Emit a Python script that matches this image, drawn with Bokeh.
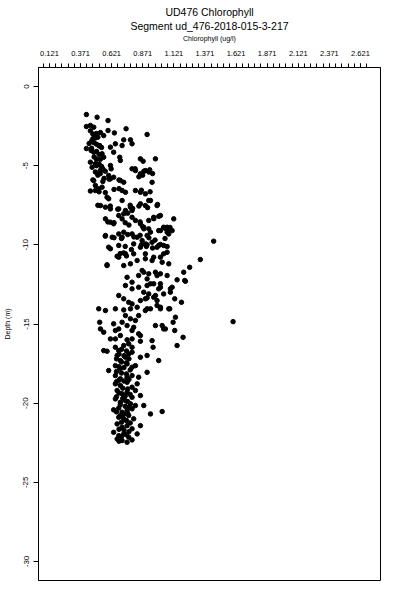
from bokeh.plotting import figure
from bokeh.models import Range1d, FixedTicker, Title
from bokeh.embed import file_html
from bokeh.resources import INLINE

TITLE = "UD476 Chlorophyll"
SUBTITLE = "Segment ud_476-2018-015-3-217"
X_LABEL = "Chlorophyll (ug/l)"
Y_LABEL = "Depth (m)"
X_TICKS = [0.121, 0.371, 0.621, 0.871, 1.121, 1.371, 1.621, 1.871, 2.121, 2.371, 2.621]
X_TICK_LABELS = ["0.121", "0.371", "0.621", "0.871", "1.121", "1.371", "1.621", "1.871", "2.121", "2.371", "2.621"]
Y_TICKS = [0, -5, -10, -15, -20, -25, -30]
Y_TICK_LABELS = ["0", "-5", "-10", "-15", "-20", "-25", "-30"]

# (chlorophyll ug/l, depth m), by depth band
band_surface = [
    (0.418, -1.77), (0.504, -1.94), (0.592, -2.15), (0.418, -2.53), (0.450, -2.46), (0.477, -2.57),
    (0.737, -2.67), (0.592, -2.78), (0.643, -2.93), (0.498, -2.97), (0.531, -2.91), (0.557, -3.10),
    (0.906, -3.03), (0.46, -3.45), (0.48, -3.55), (0.50, -3.65), (0.52, -3.75), (0.54, -3.85),
    (0.44, -3.6), (0.47, -3.3), (0.51, -3.2), (0.418, -3.92), (0.456, -4.04), (0.477, -4.15),
    (0.525, -3.73), (0.544, -4.25), (0.557, -4.47), (0.611, -3.83), (0.651, -3.62), (0.705, -3.73),
    (0.718, -3.37), (0.785, -3.62), (0.772, -3.37), (0.637, -4.15), (0.686, -4.47), (0.691, -4.67),
    (0.450, -4.78), (0.464, -5.10), (0.490, -4.88), (0.50, -4.6), (0.52, -4.9), (0.53, -5.3),
    (0.51, -5.6), (0.55, -5.2), (0.56, -5.8), (0.611, -4.99), (0.617, -5.20), (0.785, -5.20),
    (0.812, -5.31), (0.852, -4.57), (0.874, -4.72), (0.852, -5.51), (0.892, -5.31), (0.927, -5.26),
    (0.973, -4.57), (0.597, -5.62), (0.611, -5.83), (0.637, -5.73), (0.691, -5.94), (0.477, -5.94),
    (0.45, -2.8), (0.47, -3.0), (0.49, -3.25), (0.46, -3.9), (0.50, -4.1), (0.52, -4.3),
    (0.48, -4.45), (0.53, -4.6), (0.50, -5.0), (0.54, -5.05), (0.49, -5.4), (0.53, -5.5),
    (0.57, -5.35), (0.47, -5.9), (0.60, -5.85), (0.68, -5.9), (0.81, -5.2), (0.88, -5.35),
    (0.92, -5.4), (0.95, -5.5), (0.84, -5.7), (0.87, -5.6),
]

band_middle = [
    (0.55, -6.0), (0.718, -6.05), (0.490, -6.25), (0.946, -6.05), (0.490, -6.57), (0.517, -6.46),
    (0.544, -6.36), (0.584, -6.99), (0.597, -7.09), (0.705, -6.57), (0.732, -6.68), (0.812, -6.57),
    (0.852, -6.68), (0.892, -6.78), (0.919, -7.20), (0.531, -7.52), (0.571, -7.62), (0.611, -7.73),
    (0.678, -7.73), (0.705, -7.20), (0.732, -7.83), (0.772, -7.62), (0.785, -7.83), (0.852, -7.41),
    (0.892, -7.52), (0.933, -7.20), (0.986, -7.52), (0.571, -8.36), (0.611, -8.57), (0.637, -8.67),
    (0.678, -8.15), (0.705, -8.36), (0.718, -8.04), (0.785, -8.26), (0.812, -8.46), (0.852, -8.67),
    (0.879, -8.89), (0.919, -8.46), (0.959, -8.26), (1.013, -8.15), (1.120, -8.36), (0.571, -9.41),
    (0.625, -9.52), (0.678, -9.31), (0.705, -9.52), (0.718, -9.20), (0.785, -9.31), (0.826, -9.52),
    (0.866, -9.73), (0.906, -9.41), (0.933, -9.20), (1.013, -9.10), (1.067, -8.89), (1.080, -9.31),
    (0.597, -10.15), (0.678, -10.04), (0.798, -9.94), (0.852, -10.15), (0.906, -10.00), (0.986, -10.15),
    (1.039, -10.04), (0.611, -10.25), (0.584, -11.26), (0.665, -10.72), (0.718, -10.51), (0.732, -10.57),
    (0.798, -10.57), (1.441, -9.77), (1.334, -10.93), (1.248, -11.42), (1.200, -11.73), (1.080, -8.99),
    (1.067, -9.20), (1.107, -9.10), (1.067, -10.11), (1.039, -10.57), (1.067, -10.47), (1.080, -11.20),
    (0.879, -8.99), (0.919, -8.99), (0.999, -9.10), (1.039, -8.89), (0.892, -9.94), (0.946, -9.84),
    (0.999, -10.04), (1.013, -9.98), (0.892, -10.88), (0.946, -10.99), (1.013, -10.78), (1.027, -11.10),
    (0.879, -11.73), (0.919, -11.83), (0.973, -11.73), (1.013, -11.83), (0.584, -11.31), (0.678, -10.78),
    (0.718, -11.31), (0.772, -11.20), (0.826, -10.99), (0.892, -10.57), (0.959, -10.78), (0.866, -11.62),
    (0.838, -11.94), (0.986, -11.94), (1.067, -11.94), (0.45, -6.6), (0.52, -6.65), (0.57, -6.7),
    (0.64, -6.5), (0.68, -6.45), (0.86, -6.55), (0.93, -6.65), (0.51, -7.5), (0.61, -7.55),
    (0.67, -7.75), (0.75, -8.0), (0.77, -7.5), (0.79, -7.7), (0.84, -7.55), (0.91, -7.65),
    (0.99, -7.45), (0.59, -8.55), (0.64, -8.6), (0.73, -8.6), (0.76, -8.75), (0.85, -8.55),
    (0.87, -8.85), (0.96, -8.35), (1.00, -8.2), (1.05, -8.95), (1.09, -8.9), (0.57, -9.45),
    (0.64, -9.55), (0.70, -9.6), (0.75, -9.35), (0.80, -9.5), (0.85, -9.4), (0.92, -9.55),
    (0.97, -9.7), (0.86, -10.0), (0.90, -10.1), (0.95, -10.2), (1.05, -9.6), (0.73, -10.1),
    (0.78, -10.3), (0.69, -10.55), (0.74, -10.7),
]

band_lower = [
    (1.208, -12.25), (1.147, -12.21), (1.107, -12.68), (1.128, -13.41), (1.182, -13.63), (1.088, -14.04),
    (1.134, -14.57), (1.115, -14.89), (1.128, -15.41), (1.195, -15.84), (1.597, -14.85), (0.906, -12.57),
    (0.959, -12.46), (1.013, -12.68), (1.093, -12.78), (0.892, -13.41), (0.973, -13.20), (0.986, -13.52),
    (1.093, -12.99), (0.906, -14.04), (0.986, -13.83), (1.013, -14.04), (0.973, -15.10), (1.039, -15.31),
    (0.745, -12.05), (0.785, -12.36), (0.906, -12.15), (0.933, -12.46), (1.013, -12.46), (1.214, -12.30),
    (0.732, -12.57), (0.785, -12.78), (0.838, -12.68), (0.879, -12.99), (0.919, -13.10), (0.959, -13.31),
    (0.999, -12.78), (1.039, -13.10), (0.678, -13.20), (0.718, -13.41), (0.758, -13.63), (0.785, -13.73),
    (0.852, -13.52), (0.906, -13.35), (1.013, -13.94), (1.080, -14.04), (0.517, -14.04), (0.571, -14.15),
    (0.651, -14.04), (0.718, -14.11), (0.772, -14.04), (0.826, -13.94), (0.732, -14.47), (0.772, -14.67),
    (0.812, -14.78), (0.838, -14.47), (0.892, -14.15), (0.933, -14.04), (0.525, -14.89), (0.637, -14.99),
    (0.705, -14.89), (0.745, -15.10), (0.798, -15.21), (1.027, -15.10), (1.053, -15.31), (0.531, -15.31),
    (0.557, -15.52), (0.651, -15.41), (0.678, -15.31), (0.785, -15.41), (0.838, -15.62), (0.852, -15.73),
    (0.611, -15.94), (0.651, -15.94), (0.691, -15.73), (0.745, -16.00), (0.785, -15.94), (0.852, -16.09),
    (0.718, -16.36), (0.758, -16.25), (0.785, -16.47), (0.651, -16.47), (0.946, -16.05), (0.954, -16.47),
    (1.147, -16.36),
]

band_deep = [
    (0.678, -16.68), (0.557, -16.68), (0.584, -16.72), (0.665, -16.99), (0.691, -17.31), (0.732, -17.10),
    (0.758, -16.89), (0.785, -16.78), (0.852, -17.10), (0.906, -16.99), (0.999, -17.31), (0.651, -17.63),
    (0.691, -17.83), (0.745, -17.52), (0.785, -17.73), (0.812, -17.63), (0.597, -17.94), (0.906, -18.05),
    (0.651, -18.26), (0.691, -18.46), (0.745, -18.36), (0.785, -18.26), (0.838, -18.36), (0.651, -18.78),
    (0.691, -18.89), (0.745, -18.68), (0.785, -18.99), (0.826, -18.78), (0.852, -19.52), (0.665, -19.20),
    (0.705, -19.41), (0.745, -19.31), (0.785, -19.63), (0.812, -19.20), (0.651, -19.73), (0.691, -19.94),
    (0.732, -19.84), (0.772, -20.04), (0.812, -20.15), (0.637, -20.42), (0.678, -20.31), (0.705, -20.57),
    (0.745, -20.47), (0.785, -20.36), (0.879, -20.15), (0.933, -20.68), (1.027, -20.53), (0.678, -20.89),
    (0.718, -20.99), (0.758, -20.78), (0.798, -20.99), (0.665, -21.31), (0.705, -21.52), (0.745, -21.42),
    (0.785, -21.62), (0.852, -21.42), (0.637, -21.84), (0.678, -22.05), (0.718, -21.94), (0.758, -22.15),
    (0.826, -21.94), (0.665, -22.26), (0.705, -22.36), (0.745, -22.47), (0.785, -22.32),
    (0.70, -16.6), (0.74, -16.7), (0.68, -16.9), (0.72, -17.0), (0.76, -17.2), (0.66, -17.2),
    (0.70, -17.4), (0.74, -17.45), (0.68, -17.7), (0.72, -17.75), (0.77, -17.9), (0.66, -18.0),
    (0.70, -18.1), (0.74, -18.15), (0.68, -18.55), (0.72, -18.6), (0.76, -18.5), (0.66, -18.65),
    (0.71, -19.05), (0.75, -19.1), (0.68, -19.35), (0.73, -19.55), (0.77, -19.45), (0.66, -19.6),
    (0.71, -19.7), (0.75, -19.9), (0.69, -20.1), (0.73, -20.2), (0.76, -20.25), (0.66, -20.55),
    (0.72, -20.7), (0.75, -20.65), (0.69, -20.8), (0.74, -21.1), (0.70, -21.2), (0.77, -21.25),
    (0.68, -21.65), (0.72, -21.7), (0.76, -21.8), (0.70, -22.1), (0.74, -22.0), (0.68, -22.4),
]

bands = [band_surface, band_middle, band_lower, band_deep]
chl = [c for band in bands for c, d in band]
depth = [d for band in bands for c, d in band]

FONT = "Liberation Sans"

p = figure(width=400, height=600, output_backend="svg", toolbar_location=None, title=None,
           x_range=Range1d(0.033, 2.782), y_range=Range1d(-31.2, 1.2),
           x_axis_location="above",
           min_border_left=38, min_border_right=20, min_border_top=67, min_border_bottom=20)
p.background_fill_color = "white"
p.border_fill_color = "white"
p.outline_line_color = "black"
p.outline_line_width = 1
p.outline_line_alpha = 1
p.xgrid.visible = False
p.ygrid.visible = False

xa = p.xaxis[0]
minor = [X_TICKS[0] - 0.05 + 0.05 * i for i in range(0, 53)]
xa.ticker = FixedTicker(ticks=X_TICKS, minor_ticks=minor)
xa.major_label_overrides = {t: l for t, l in zip(X_TICKS, X_TICK_LABELS)}
xa.axis_label = X_LABEL
xa.axis_label_text_font = FONT
xa.axis_label_text_font_size = "7px"
xa.axis_label_text_font_style = "normal"
xa.axis_label_text_color = "black"
xa.axis_label_standoff = 6
xa.major_label_text_font = FONT
xa.major_label_text_font_size = "7.5px"
xa.major_label_text_color = "black"
xa.major_label_standoff = 8
xa.major_tick_out = 4
xa.major_tick_in = 0
xa.minor_tick_out = 4
xa.minor_tick_in = 0
xa.axis_line_color = "black"
xa.major_tick_line_color = "black"
xa.minor_tick_line_color = "black"
xa.major_tick_line_width = 1
xa.minor_tick_line_width = 1

ya = p.yaxis[0]
ya.ticker = FixedTicker(ticks=Y_TICKS)
ya.major_label_overrides = {t: l for t, l in zip(Y_TICKS, Y_TICK_LABELS)}
ya.major_label_orientation = "vertical"
ya.axis_label = Y_LABEL
ya.axis_label_text_font = FONT
ya.axis_label_text_font_size = "7px"
ya.axis_label_text_font_style = "normal"
ya.axis_label_text_color = "black"
ya.axis_label_standoff = 10
ya.major_label_text_font = FONT
ya.major_label_text_font_size = "8px"
ya.major_label_text_color = "black"
ya.major_label_standoff = 5
ya.major_tick_out = 5
ya.major_tick_in = 0
ya.minor_tick_line_color = None
ya.axis_line_color = "black"
ya.major_tick_line_color = "black"

p.add_layout(Title(text=SUBTITLE, align="center", text_font=FONT, text_font_size="10.5px",
                   text_font_style="normal", text_color="black", text_line_height=0.9,
                   standoff=0), "above")
p.add_layout(Title(text=TITLE, align="center", text_font=FONT, text_font_size="10.5px",
                   text_font_style="normal", text_color="black", text_line_height=0.9,
                   standoff=0), "above")

p.scatter(x=chl, y=depth, size=4.5, color="black", marker="circle")

open("out.html", "w").write(file_html(p, INLINE))
